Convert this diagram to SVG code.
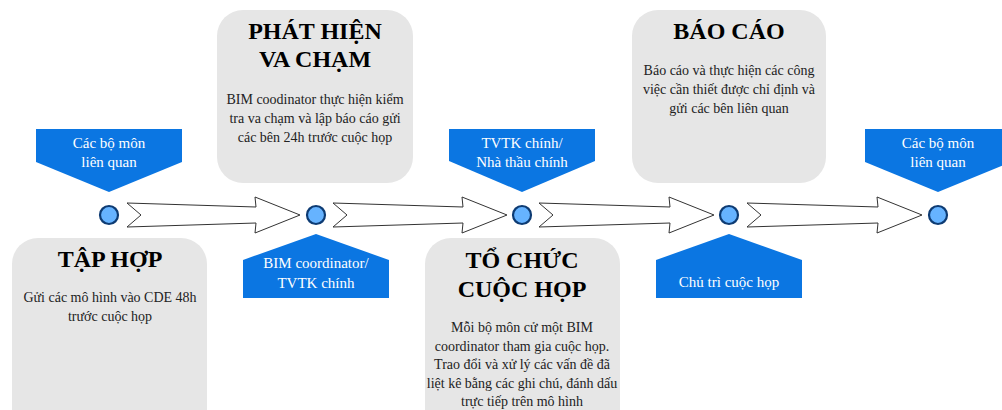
<svg xmlns="http://www.w3.org/2000/svg" width="1002" height="410" viewBox="0 0 1002 410">
<style>
.box{fill:#e6e6e6;}
.title{font-family:"Liberation Serif",serif;font-weight:bold;font-size:24px;fill:#000;text-anchor:middle;}
.body{font-family:"Liberation Serif",serif;font-size:14px;fill:#222;text-anchor:middle;}
.tag{fill:#0b76e2;}
.tagt{font-family:"Liberation Serif",serif;font-size:15px;fill:#fff;text-anchor:middle;}
.dot{fill:#66b3ff;stroke:#0d3b73;stroke-width:2.2;}
.arr{fill:#fff;stroke:#333;stroke-width:1;stroke-linejoin:miter;}
</style>
<rect width="1002" height="410" fill="#fff"/>
<g id="connectors">
<polygon class="arr" points="127,203 256,207 255,197 300,215 255,233 256,223 127,227 141,215"/>
<polygon class="arr" points="333,203 463,207 462,197 507,215 462,233 463,223 333,227 347,215"/>
<polygon class="arr" points="539,203 670,207 669,197 714,215 669,233 670,223 539,227 553,215"/>
<polygon class="arr" points="747,203 878,207 877,197 922,215 877,233 878,223 747,227 761,215"/>
</g>
<g id="box-tap-hop">
<rect class="box" x="12" y="238" width="195" height="200" rx="26"/>
<text class="title" x="110" y="267">TẬP HỢP</text>
<text class="body" x="110" y="302">Gửi các mô hình vào CDE 48h</text>
<text class="body" x="110" y="321">trước cuộc họp</text>
</g>
<g id="box-phat-hien">
<rect class="box" x="217" y="10" width="196" height="173" rx="26"/>
<text class="title" x="315" y="39">PHÁT HIỆN</text>
<text class="title" x="315" y="67">VA CHẠM</text>
<text class="body" x="315" y="104">BIM coodinator thực hiện kiểm</text>
<text class="body" x="315" y="123">tra va chạm và lập báo cáo gửi</text>
<text class="body" x="315" y="142">các bên 24h trước cuộc họp</text>
</g>
<g id="box-to-chuc">
<rect class="box" x="425" y="238" width="195" height="200" rx="26"/>
<text class="title" x="522" y="268">TỔ CHỨC</text>
<text class="title" x="522" y="297">CUỘC HỌP</text>
<text class="body" x="522" y="332">Mỗi bộ môn cử một BIM</text>
<text class="body" x="522" y="350.5">coordinator tham gia cuộc họp.</text>
<text class="body" x="522" y="369">Trao đổi và xử lý các vấn đề đã</text>
<text class="body" x="522" y="387.5">liệt kê bằng các ghi chú, đánh dấu</text>
<text class="body" x="522" y="406">trực tiếp trên mô hình</text>
</g>
<g id="box-bao-cao">
<rect class="box" x="632" y="10" width="194" height="173" rx="26"/>
<text class="title" x="729" y="39">BÁO CÁO</text>
<text class="body" x="729" y="75">Báo cáo và thực hiện các công</text>
<text class="body" x="729" y="94">việc cần thiết được chỉ định và</text>
<text class="body" x="729" y="113">gửi các bên liên quan</text>
</g>
<g id="tag-1">
<polygon class="tag" points="36,129 182,129 182,162 109,192 36,162"/>
<text class="tagt" x="109" y="148">Các bộ môn</text>
<text class="tagt" x="109" y="167">liên quan</text>
</g>
<g id="tag-2">
<polygon class="tag" points="243,298 389,298 389,260 316,234 243,260"/>
<text class="tagt" x="316" y="268">BIM coordinator/</text>
<text class="tagt" x="316" y="288">TVTK chính</text>
</g>
<g id="tag-3">
<polygon class="tag" points="449,129 595,129 595,161 522,192 449,161"/>
<text class="tagt" x="522" y="148">TVTK chính/</text>
<text class="tagt" x="522" y="167">Nhà thầu chính</text>
</g>
<g id="tag-4">
<polygon class="tag" points="656,298 802,298 802,260 729,234 656,260"/>
<text class="tagt" x="729" y="287">Chủ trì cuộc họp</text>
</g>
<g id="tag-5">
<polygon class="tag" points="865,129 1011,129 1011,162 938,192 865,162"/>
<text class="tagt" x="938" y="148">Các bộ môn</text>
<text class="tagt" x="938" y="167">liên quan</text>
</g>
<g id="dot-1"><circle class="dot" cx="109" cy="215" r="9"/></g>
<g id="dot-2"><circle class="dot" cx="316" cy="215" r="9"/></g>
<g id="dot-3"><circle class="dot" cx="522" cy="215" r="9"/></g>
<g id="dot-4"><circle class="dot" cx="729" cy="215" r="9"/></g>
<g id="dot-5"><circle class="dot" cx="938" cy="215" r="9"/></g>
</svg>
